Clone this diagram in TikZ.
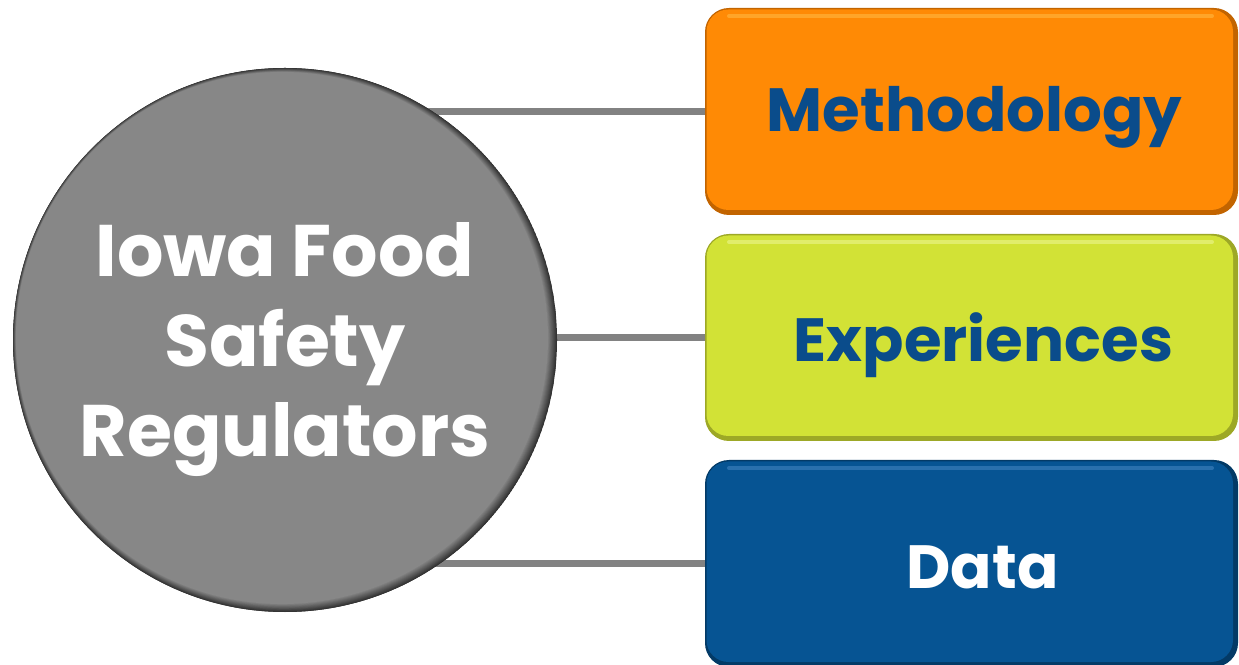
\documentclass[tikz,border=0pt]{standalone}
\usepackage{fontspec}
\setmainfont{Poppins}
\usetikzlibrary{backgrounds}
\definecolor{orng}{HTML}{FF8A05}
\definecolor{orngdk}{HTML}{C26400}
\definecolor{ornglt}{HTML}{FFC04D}
\definecolor{lime}{HTML}{D2E236}
\definecolor{limedk}{HTML}{9DA826}
\definecolor{limelt}{HTML}{F0F8A0}
\definecolor{navy}{HTML}{065493}
\definecolor{navydk}{HTML}{033A66}
\definecolor{navylt}{HTML}{4D8CC8}
\definecolor{txtblue}{HTML}{0A4C8B}
\definecolor{gry}{HTML}{878787}
\definecolor{grydk}{HTML}{333333}
\definecolor{linegray}{HTML}{828282}
\newcommand{\lowered}[2]{\raisebox{-#1}[0pt][0pt]{#2}}
\begin{document}
\begin{tikzpicture}[x=1pt,y=1pt,
  cbox/.style n args={3}{rounded corners=24pt, minimum width=533pt, minimum height=207pt, inner sep=0pt, fill=#1,
    path picture={
      \fill[#2, rounded corners=22pt] ([xshift=1.5pt,yshift=5pt]path picture bounding box.south west) rectangle ([xshift=-5pt,yshift=-1.5pt]path picture bounding box.north east);
      \draw[#3, line width=4pt, opacity=.5, line cap=round] ([xshift=24pt,yshift=-8pt]path picture bounding box.north west) -- ([xshift=-26pt,yshift=-8pt]path picture bounding box.north east);
    }},
  lbl/.style={font=\fontsize{61}{61}\selectfont\bfseries},
  conn/.style={draw=linegray, line width=7pt},
  hub/.style={circle, minimum size=544pt, inner sep=0pt, fill=grydk,
    path picture={
      \foreach \i in {0,...,10}{
        \pgfmathtruncatemacro\p{\i*10}
        \fill[gry!\p!grydk] ([xshift=-0.3*\i pt, yshift=0.2*\i pt]path picture bounding box.center) circle ({272-0.6*\i});
      }
    }}
]
\useasboundingbox (0,0) rectangle (1239,664);
\node[cbox={orngdk}{orng}{ornglt}, text=txtblue, lbl] (m) at (971.5,552.5) {\hspace*{6pt}\lowered{20.5pt}{Methodology}};
\node[cbox={limedk}{lime}{limelt}, text=txtblue, lbl] (e) at (971.5,326.5) {\hspace*{24pt}\lowered{24pt}{Experiences}};
\node[cbox={navydk}{navy}{navylt}, text=white, lbl] (d) at (971.5,100.5) {\hspace*{22pt}\lowered{25pt}{Data}};
\node[hub] (c) at (285,324) {};
\node[text=white, align=center, font=\fontsize{73}{90}\selectfont\bfseries] (ct) at ([yshift=-10pt]c.center) {Iowa Food\\Safety\\Regulators};
\begin{scope}[on background layer]
  \draw[conn] (c.center |- m.west) -- (m.west);
  \draw[conn] (c.center |- e.west) -- (e.west);
  \draw[conn] (c.center |- d.west) -- (d.west);
\end{scope}
\end{tikzpicture}
\end{document}
